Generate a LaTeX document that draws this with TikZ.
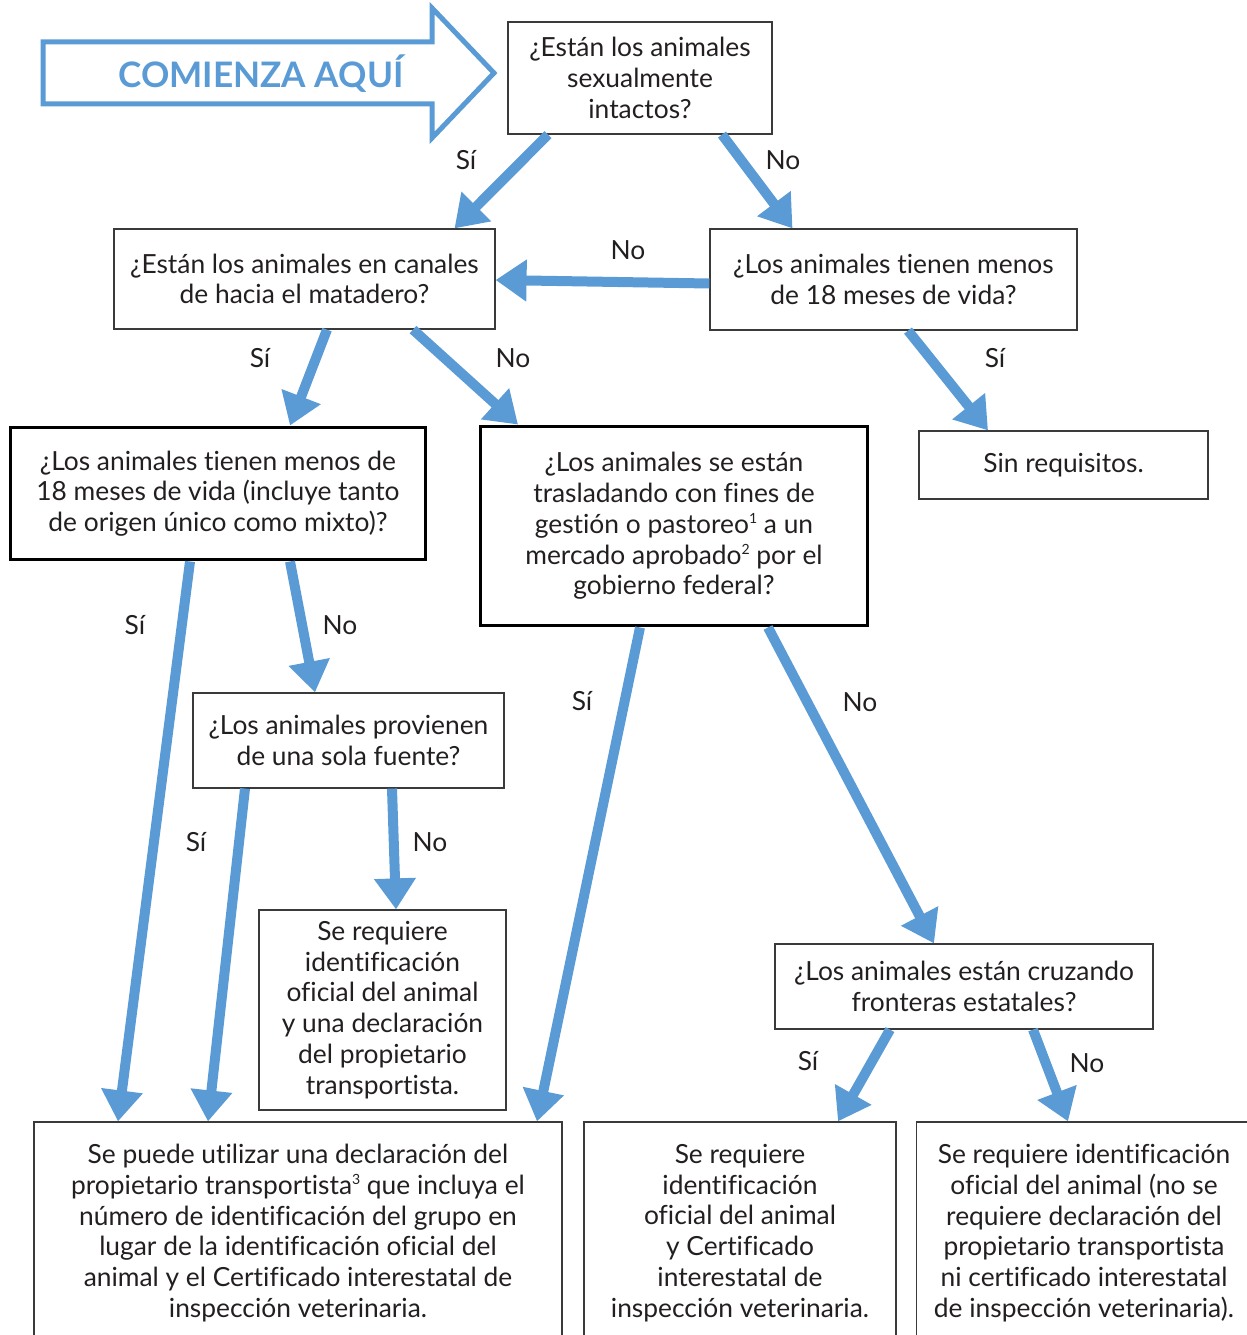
\documentclass[tikz,border=0pt]{standalone}
\usepackage{fontspec}
\setmainfont{Lato}[Ligatures={NoCommon}]
\usetikzlibrary{arrows.meta,calc}
\definecolor{Flow}{HTML}{5B9BD5}
\definecolor{Ink}{HTML}{231F20}
\definecolor{Frame}{HTML}{3A3A3A}
\newcommand{\fnmark}[1]{\raisebox{0.75ex}{\fontsize{8}{8}\selectfont #1}}

\begin{document}
\begin{tikzpicture}[x=0.02cm, y=-0.02cm,
    box/.style={draw=Frame, line width=0.7pt, align=center, text=Ink,
      font=\fontsize{15}{17.5}\selectfont, inner sep=0pt},
    heavy/.style={box, draw=black, line width=1.7pt},
    flow/.style={draw=Flow, line width=0.2cm,
      -{Triangle[length=0.62cm, width=0.8cm]}},
    answer/.style={text=Ink, font=\fontsize{15}{17.5}\selectfont}]
    \useasboundingbox (0,0) rectangle (1247,1335);
    \clip (0,0) rectangle (1247,1335);

    % start arrow
    \draw[Flow, line width=0.1cm, line join=miter]
      (43,42) -- (432,42) -- (432,8) -- (494,73) -- (432,138) -- (432,104) -- (43,104) -- cycle;
    \node at (261,74) (start) [text=Flow, font=\fontsize{20}{24}\selectfont\bfseries] {COMIENZA AQUÍ};

    % questions
    \node at (640,78) (intact) [box, minimum width=5.28cm, minimum height=2.24cm]
      {¿Están los animales\\sexualmente\\intactos?};
    \node at (304.5,279) (canal) [box, minimum width=7.62cm, minimum height=2cm]
      {¿Están los animales en canales\\de hacia el matadero?};
    \node at (893.5,279.5) (young) [box, minimum width=7.34cm, minimum height=2.02cm]
      {¿Los animales tienen menos\\de 18 meses de vida?};
    \node at (1063.5,465) (none) [box, minimum width=5.78cm, minimum height=1.36cm]
      {Sin requisitos.};
    \node at (218,493.5) (mixed) [heavy, minimum width=8.32cm, minimum height=2.66cm]
      {¿Los animales tienen menos de\\18 meses de vida (incluye tanto\\de origen único como mixto)?};
    \node at (674,526) (market) [heavy, minimum width=7.76cm, minimum height=4cm]
      {¿Los animales se están\\trasladando con fines de\\gestión o pastoreo\fnmark{1} a un\\mercado aprobado\fnmark{2} por el\\gobierno federal?};
    \node at (348.5,740.5) (source) [box, minimum width=6.22cm, minimum height=1.9cm]
      {¿Los animales provienen\\de una sola fuente?};
    \node at (382.5,1010) (declare) [box, minimum width=4.94cm, minimum height=4cm]
      {Se requiere\\identificación\\oficial del animal\\y una declaración\\del propietario\\transportista.};
    \node at (964,986.5) (states) [box, minimum width=7.56cm, minimum height=1.7cm]
      {¿Los animales están cruzando\\fronteras estatales?};

    % outcomes
    \node at (298,1233) (group) [box, minimum width=10.56cm, minimum height=4.44cm]
      {Se puede utilizar una declaración del\\propietario transportista\fnmark{3} que incluya el\\número de identificación del grupo en\\lugar de la identificación oficial del\\animal y el Certificado interestatal de\\inspección veterinaria.};
    \node at (740,1233) (interstate) [box, minimum width=6.24cm, minimum height=4.44cm]
      {Se requiere\\identificación\\oficial del animal\\y Certificado\\interestatal de\\inspección veterinaria.};
    \node at (1084,1233) (noneed) [box, minimum width=6.7cm, minimum height=4.44cm]
      {Se requiere identificación\\oficial del animal (no se\\requiere declaración del\\propietario transportista\\ni certificado interestatal\\de inspección veterinaria).};

    % connectors
    \draw[flow] ($(intact.south)+(-92,0)$) -- ($(canal.north)+(150,0)$);
    \draw[flow] ($(intact.south)+(82,0)$) -- ($(young.north)+(-101,0)$);
    \draw[flow] ($(young.west)+(0,4)$) -- ($(canal.east)+(0,1)$);
    \draw[flow] ($(canal.south)+(22.5,0)$) -- ($(mixed.north)+(72,0)$);
    \draw[flow] ($(canal.south)+(108.5,0)$) -- ($(market.north)+(-156,0)$);
    \draw[flow] ($(young.south)+(14.5,0)$) -- ($(none.north)+(-75.5,0)$);
    \draw[flow] ($(mixed.south)+(-28,0)$) -- ($(group.north)+(-180,0)$);
    \draw[flow] ($(mixed.south)+(72,0)$) -- ($(source.north)+(-33.5,0)$);
    \draw[flow] ($(source.south)+(-103.5,0)$) -- ($(group.north)+(-90,0)$);
    \draw[flow] ($(source.south)+(43.5,0)$) -- ($(declare.north)+(13.5,0)$);
    \draw[flow] ($(market.south)+(-34,0)$) -- ($(group.north)+(239,0)$);
    \draw[flow] ($(market.south)+(94,0)$) -- ($(states.north)+(-30,0)$);
    \draw[flow] ($(states.south)+(-74,0)$) -- ($(interstate.north)+(98,0)$);
    \draw[flow] ($(states.south)+(69,0)$) -- ($(noneed.north)+(-16,0)$);

    % answers
    \node at (466,160) (yes1) [answer] {Sí};
    \node at (783,160) (no1) [answer] {No};
    \node at (628,250) (no2) [answer] {No};
    \node at (260,358) (yes2) [answer] {Sí};
    \node at (513,358) (no3) [answer] {No};
    \node at (995,358) (yes3) [answer] {Sí};
    \node at (135,625) (yes4) [answer] {Sí};
    \node at (340,625) (no4) [answer] {No};
    \node at (196,842) (yes5) [answer] {Sí};
    \node at (430,842) (no5) [answer] {No};
    \node at (582,701) (yes6) [answer] {Sí};
    \node at (860,702) (no6) [answer] {No};
    \node at (808,1061) (yes7) [answer] {Sí};
    \node at (1087,1063) (no7) [answer] {No};
\end{tikzpicture}
\end{document}
